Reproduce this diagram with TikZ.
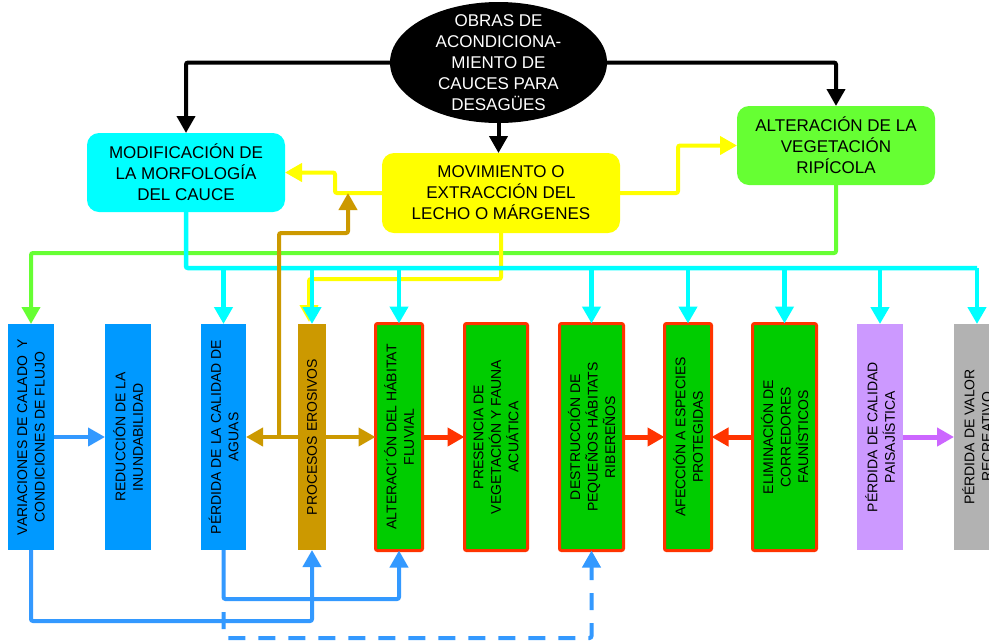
\documentclass[tikz,border=0pt]{standalone}
\usepackage{fontspec}
\setmainfont{Liberation Sans}
\usetikzlibrary{arrows.meta,shapes.geometric,calc}

\definecolor{cyanline}{HTML}{00FFFF}
\definecolor{yellowline}{HTML}{FFFF00}
\definecolor{lgreen}{HTML}{66FF33}
\definecolor{bluebox}{HTML}{0099FF}
\definecolor{blueline}{HTML}{3399FF}
\definecolor{brownline}{HTML}{CC9900}
\definecolor{habgreen}{HTML}{00CC00}
\definecolor{redline}{HTML}{FF3300}
\definecolor{lilacbox}{HTML}{CC99FF}
\definecolor{lilacline}{HTML}{CC66FF}
\definecolor{greybox}{HTML}{B2B2B2}

\newcommand\toptext{\fontsize{17}{21}\selectfont}
\newcommand\coltext{\fontsize{14}{17.5}\selectfont}

\begin{document}
\begin{tikzpicture}[x=1pt,y=-1pt,
  box/.style={draw=none, inner sep=0pt, outer sep=0pt, anchor=center},
  topbox/.style={box, rounded corners=12pt, align=center, font=\toptext},
  colbox/.style={box, minimum height=226pt},
  habbox/.style={box, fill=habgreen, draw=redline, line width=3pt,
    rounded corners=2pt, minimum height=227pt},
  vlabel/.style={rotate=90, align=center, font=\coltext, inner sep=0pt},
  conn/.style={line width=4pt, rounded corners=2pt,
    -{Triangle[width=18pt,length=17pt]}}]

\useasboundingbox (0,0) rectangle (989,641);
\clip (0,0) rectangle (989,641);
\fill[white] (0,0) rectangle (989,641);

% --- top level: source ellipse and first-order effects
\node[ellipse, fill=black, minimum width=217pt, minimum height=121pt,
  inner sep=0pt] (obras) at (498.5,62.5) {};
\node[text=white, align=center, font=\toptext, inner sep=0pt] (obrasT)
  at (obras.center) {OBRAS DE\\ACONDICIONA-\\MIENTO DE\\CAUCES PARA\\DESAGÜES};

\node[topbox, fill=cyanline, minimum width=198pt, minimum height=79pt]
  (modif) at (186,172.5) {MODIFICACIÓN DE\\LA MORFOLOGÍA\\DEL CAUCE};
\node[topbox, fill=yellowline, minimum width=238pt, minimum height=80pt]
  (mov) at (501,193) {MOVIMIENTO O\\EXTRACCIÓN DEL\\LECHO O MÁRGENES};
\node[topbox, fill=lgreen, minimum width=198pt, minimum height=79pt]
  (alt) at (836,145.5) {ALTERACIÓN DE LA\\VEGETACIÓN\\RIPÍCOLA};

% --- bottom row of impact columns
\node[colbox, fill=bluebox, minimum width=46pt] (var) at (31,437) {};
\node[colbox, fill=bluebox, minimum width=46pt] (red) at (128,437) {};
\node[colbox, fill=bluebox, minimum width=45pt] (aguas) at (223.5,437) {};
\node[colbox, fill=brownline, minimum width=28pt] (proc) at (312,437) {};
\node[habbox, minimum width=47pt] (habitat) at (399,437) {};
\node[habbox, minimum width=63pt] (pres) at (496,437) {};
\node[habbox, minimum width=64pt] (destr) at (591.5,437) {};
\node[habbox, minimum width=47pt] (afec) at (688,437) {};
\node[habbox, minimum width=64pt] (elim) at (784.5,437) {};
\node[colbox, fill=lilacbox, minimum width=46pt] (paisaj) at (880,437) {};
\node[colbox, fill=greybox, minimum width=46pt] (recre) at (977,437) {};

\node[vlabel] (varT) at (var.center) {VARIACIONES DE CALADO~~Y\\CONDICIONES DE FLUJO};
\node[vlabel] (redT) at (red.center) {REDUCCIÓN DE LA\\INUNDABILIDAD};
\node[vlabel] (aguasT) at (aguas.center) {PÉRDIDA DE LA CALIDAD DE\\AGUAS};
\node[vlabel] (procT) at (proc.center) {PROCESOS EROSIVOS};
\node[vlabel] (habitatT) at (habitat.center) {ALTERACI´ÓN DEL HÁBITAT\\FLUVIAL};
\node[vlabel] (presT) at (pres.center) {PRESENCIA DE\\VEGETACIÓN Y FAUNA\\ACUÁTICA};
\node[vlabel] (destrT) at (destr.center) {DESTRUCCIÓN DE\\PEQUEÑOS HÁBITATS\\RIBEREÑOS};
\node[vlabel] (afecT) at (afec.center) {AFECCIÓN A ESPECIES\\PROTEGIDAS};
\node[vlabel] (elimT) at (elim.center) {ELIMINACIÓN DE\\CORREDORES\\FAUNÍSTICOS};
\node[vlabel] (paisajT) at (paisaj.center) {PÉRDIDA DE CALIDAD\\PAISAJÍSTICA};
\node[vlabel] (recreT) at (recre.center) {PÉRDIDA DE VALOR\\RECREATIVO};

% --- routing levels
\coordinate (gbus) at (0,253);
\coordinate (cbus) at (0,268);
\coordinate (ybus) at (0,279);
\coordinate (bbus2) at (0,599);
\coordinate (bbus1) at (0,621);
\coordinate (dbus) at (0,638);
\coordinate (bj) at (279,437);
\coordinate (bk) at (348,233);

% --- black connectors from the source
\draw[conn, black] (obras.west) -| (modif.north);
\draw[conn, black] (obras.east) -| (alt.north);
\draw[conn, black] (obras.south) -- (obras.south |- mov.north);

% --- yellow connectors
\draw[conn, yellowline] (mov.west) -- ++(-47,0) |- (modif.east);
\draw[conn, yellowline] (mov.east) -- ++(58,0) |- (alt.west);

% --- green feed to the first column
\draw[conn, lgreen] (alt.south) |- (var.north |- gbus) -- (var.north);

% --- yellow feed to erosion
\draw[conn, yellowline] (mov.south) |- ($(proc.north |- ybus)+(-3,0)$)
  -- ($(proc.north)+(-3,-2)$);

% --- cyan distribution bus
\draw[cyanline, line width=4.5pt, rounded corners=2pt]
  (modif.south) |- (recre.north |- cbus);
\foreach \t in {aguas,proc,habitat,destr,afec,elim,paisaj,recre}
  \draw[conn, cyanline, line width=4.5pt] (\t.north |- cbus) -- (\t.north);

% --- erosion links
\draw[conn, brownline] (proc.west) -- (aguas.east);
\draw[conn, brownline] (proc.east) -- (habitat.west);
\draw[conn, brownline] (bj) |- (bk) -- (bk |- mov.west);

% --- links between columns
\draw[conn, blueline] (var.east) -- (red.west);
\draw[conn, redline, line width=5pt] (habitat.east) -- (pres.west);
\draw[conn, redline, line width=5pt] (destr.east) -- (afec.west);
\draw[conn, redline, line width=5pt] (elim.west) -- (afec.east);
\draw[conn, lilacline, line width=5pt] (paisaj.east) -- (recre.west);

% --- blue links below the columns
\draw[conn, blueline] (var.south) |- (proc.south |- bbus1) -- (proc.south);
\draw[conn, blueline] (aguas.south) |- (habitat.south |- bbus2) -- (habitat.south);
\draw[conn, blueline, dash pattern=on 17pt off 13pt, dash phase=17pt]
  (aguas.south |- bbus2) |- (destr.south |- dbus) -- (destr.south);

\end{tikzpicture}
\end{document}
